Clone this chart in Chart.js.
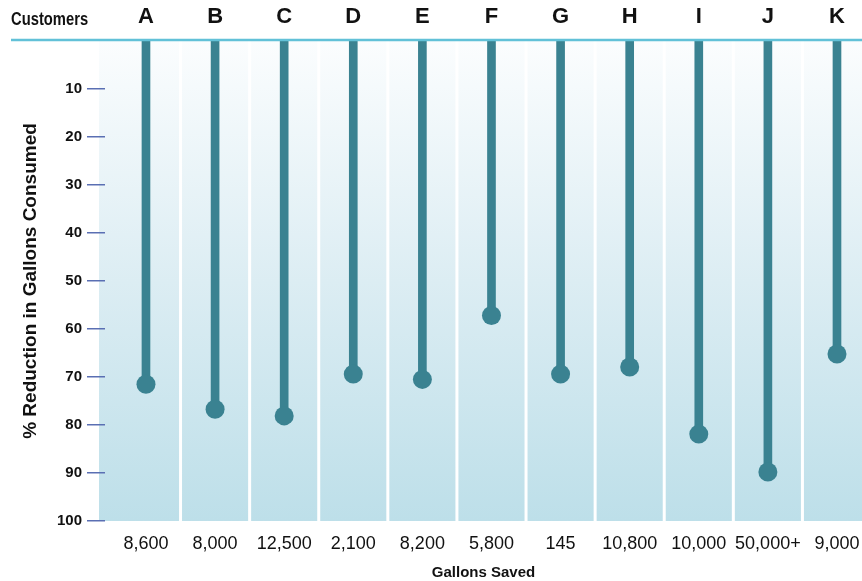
<!DOCTYPE html>
<html>
<head>
<meta charset="utf-8">
<script src="https://cdn.jsdelivr.net/npm/chart.js@4.4.1/dist/chart.umd.min.js"></script>
<style>
    html, body { margin: 0; padding: 0; background: #ffffff; }
    #wrap { width: 862px; height: 581px; }
</style>
</head>
<body>
<div id="wrap"><canvas id="grafico" width="862" height="581"></canvas></div>
<script>
// dados
const clientes = ['A', 'B', 'C', 'D', 'E', 'F', 'G', 'H', 'I', 'J', 'K'];
const galoesEconomizados = ['8,600', '8,000', '12,500', '2,100', '8,200', '5,800', '145', '10,800', '10,000', '50,000+', '9,000'];
const reducaoPct = [71.5, 76.7, 78.1, 69.4, 70.5, 57.2, 69.4, 67.9, 81.9, 89.8, 65.2];
const ticksY = [10, 20, 30, 40, 50, 60, 70, 80, 90, 100];

const corHaste = '#3a8291';
const fonte = "'Liberation Sans', Arial, sans-serif";

// Faixas verticais com degradê atrás de cada cliente
const fundoColunas = {
    id: 'fundoColunas',
    beforeDraw(chart) {
        const { ctx, chartArea, scales } = chart;
        const x = scales.x;
        const grad = ctx.createLinearGradient(0, chartArea.top, 0, chartArea.bottom);
        grad.addColorStop(0, '#fbfdfe');
        grad.addColorStop(0.5, '#dcedf3');
        grad.addColorStop(1, '#bddfe9');
        ctx.save();
        ctx.fillStyle = grad;
        clientes.forEach((c, i) => {
            let esq = x.getPixelForValue(i - 0.5) + 1.5;
            let dir = x.getPixelForValue(i + 0.5) - 1.5;
            if (i === 0) esq = chartArea.left - 6;
            if (i === clientes.length - 1) dir = chart.width;
            ctx.fillRect(esq, chartArea.top, dir - esq, chartArea.bottom - chartArea.top);
        });
        ctx.restore();
    },
    afterDraw(chart) {
        const { ctx, chartArea } = chart;
        ctx.save();
        // linha superior
        ctx.strokeStyle = '#62c1d8';
        ctx.lineWidth = 2.5;
        ctx.beginPath();
        ctx.moveTo(11, chartArea.top - 1);
        ctx.lineTo(chart.width, chartArea.top - 1);
        ctx.stroke();
        // rótulo "Customers" (fonte condensada)
        ctx.fillStyle = '#111111';
        ctx.font = "bold 18px " + fonte;
        ctx.textBaseline = 'middle';
        ctx.textAlign = 'left';
        ctx.translate(11, 20);
        ctx.scale(0.82, 1);
        ctx.fillText('Customers', 0, 0);
        ctx.restore();
    }
};

const posicoes = clientes.map((c, i) => i);

// eixo x sem folga lateral para os rótulos
function ajustarEixoX(altura) {
    return s => {
        s.height = altura;
        s.paddingLeft = 0;
        s.paddingRight = 0;
    };
}

new Chart(document.getElementById('grafico'), {
    type: 'bar',
    data: {
        datasets: [{
            type: 'bar',
            data: reducaoPct.map((v, i) => ({ x: i, y: v })),
            backgroundColor: corHaste,
            barThickness: 8,
            xAxisID: 'x',
            yAxisID: 'y',
            order: 2
        }, {
            type: 'scatter',
            data: reducaoPct.map((v, i) => ({ x: i, y: v })),
            backgroundColor: corHaste,
            borderColor: corHaste,
            borderWidth: 0,
            pointRadius: 9.5,
            pointHoverRadius: 9.5,
            xAxisID: 'x',
            yAxisID: 'y',
            order: 1
        }]
    },
    options: {
        responsive: false,
        animation: false,
        events: [],
        layout: { padding: 0, autoPadding: false },
        plugins: {
            legend: { display: false },
            tooltip: { enabled: false }
        },
        scales: {
            x: {
                type: 'linear',
                position: 'bottom',
                offset: false,
                min: -0.593,
                max: 10.362,
                afterBuildTicks: s => { s.ticks = posicoes.map(v => ({ value: v })); },
                afterFit: ajustarEixoX(60),
                // espaço vertical dado pelo tickLength (marcas não desenhadas)
                grid: { display: false, drawTicks: true, tickLength: 12 },
                border: { display: false },
                ticks: {
                    autoSkip: false,
                    maxRotation: 0,
                    padding: 0,
                    color: '#111111',
                    font: { family: fonte, size: 18 },
                    callback: v => galoesEconomizados[v]
                },
                title: {
                    display: true,
                    text: 'Gallons Saved',
                    color: '#111111',
                    font: { family: fonte, size: 15, weight: 'bold', lineHeight: 1 },
                    padding: { top: 0, bottom: 1 }
                }
            },
            xTopo: {
                type: 'linear',
                position: 'top',
                offset: false,
                min: -0.593,
                max: 10.362,
                afterBuildTicks: s => { s.ticks = posicoes.map(v => ({ value: v })); },
                afterFit: ajustarEixoX(41),
                grid: { display: false, drawTicks: true, tickLength: 11 },
                border: { display: false },
                ticks: {
                    autoSkip: false,
                    maxRotation: 0,
                    padding: 0,
                    color: '#111111',
                    font: { family: fonte, size: 22, weight: 'bold' },
                    callback: v => clientes[v]
                }
            },
            y: {
                type: 'linear',
                reverse: true,
                min: 0,
                max: 100,
                afterBuildTicks: s => { s.ticks = ticksY.map(v => ({ value: v })); },
                afterFit: s => { s.width = 105; },
                grid: {
                    drawOnChartArea: false,
                    drawTicks: true,
                    tickLength: 18,
                    color: '#5a6fb3',
                    lineWidth: 1.5
                },
                border: { display: false },
                ticks: {
                    padding: 5,
                    color: '#111111',
                    font: { family: fonte, size: 15, weight: 'bold' }
                },
                title: {
                    display: true,
                    text: '% Reduction in Gallons Consumed',
                    color: '#111111',
                    font: { family: fonte, size: 19, weight: 'bold' },
                    padding: { top: 19, bottom: 0 }
                }
            }
        }
    },
    plugins: [fundoColunas]
});
</script>
</body>
</html>
